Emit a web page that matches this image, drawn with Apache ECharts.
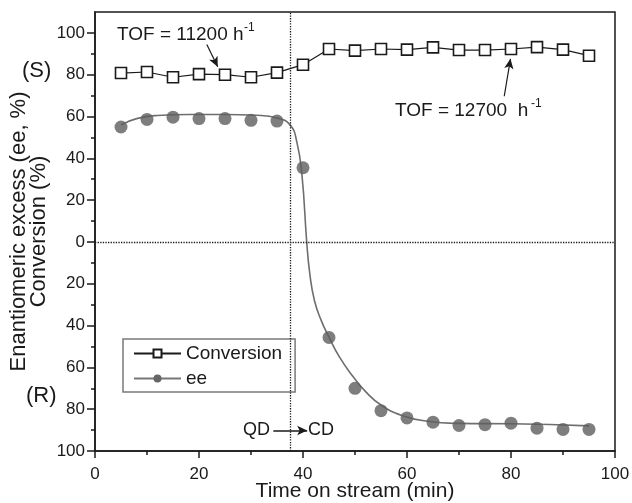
<!DOCTYPE html>
<html>
<head>
<meta charset="utf-8">
<script src="https://cdn.jsdelivr.net/npm/echarts@6/dist/echarts.min.js"></script>
<style>html,body{margin:0;padding:0;background:#fff}#c{width:632px;height:503px}</style>
</head>
<body>
<div id="c"></div>
<script>
// ---- data ----
var time = [5,10,15,20,25,30,35,40,45,50,55,60,65,70,75,80,85,90,95];
var conversion = [80.8,81.3,78.8,80.3,80.0,78.8,81.0,84.8,92.3,91.5,92.3,92.0,93.1,91.8,91.8,92.3,93.2,92.0,89.1];
// ee: positive = (S), negative = (R)
var ee = [55.0,58.6,59.7,59.0,59.0,58.2,57.8,35.5,-45.7,-70.0,-80.7,-84.2,-86.2,-87.8,-87.4,-86.7,-89.1,-89.7,-89.7];
// fitted curve, points
var fitTime = [5,8,12,18,25,31,35,37.5,38.8,39.8,40.7,41.3,42.2,43.5,45,47,49.5,52,55,59,64,70,80,95];
var fitEe   = [56,59,60.5,61,61,60.6,59.3,56,48,32,0.5,-15,-28,-37.5,-45.5,-55,-64,-71.5,-78,-83,-85.8,-86.8,-87,-88];
var yMajorTicks = [-100,-80,-60,-40,-20,0,20,40,60,80,100];
var yMinorTicks = [-90,-70,-50,-30,-10,10,30,50,70,90];
var switchTime = 37.5;

var FONT = 'Liberation Sans';
var INK = '#1a1a1a';

function pairs(xs, ys){ return xs.map(function(x,i){ return [x, ys[i]]; }); }

var chart = echarts.init(document.getElementById('c'), null, {renderer:'canvas'});
var option = {
  animation: false,
  backgroundColor: '#fff',
  textStyle: {fontFamily: FONT, color: INK},
  grid: {left: 95, right: 17, top: 12, bottom: 52, show: true, borderColor: INK, borderWidth: 1.5,
         backgroundColor: 'transparent', containLabel: false, outerBoundsMode: 'none'},
  legend: {
    data: ['Conversion', 'ee'],
    left: 123, top: 339, orient: 'vertical',
    padding: [5, 13, 4, 10],
    itemWidth: 47, itemHeight: 10, itemGap: 6,
    borderColor: '#7a7a7a', borderWidth: 1.5, backgroundColor: '#fff',
    textStyle: {fontFamily: FONT, fontSize: 19, color: INK}
  },
  xAxis: {
    type: 'value', min: 0, max: 100, interval: 20,
    name: 'Time on stream (min)', nameLocation: 'middle', nameGap: 30, nameMoveOverlap: false,
    nameTextStyle: {fontFamily: FONT, fontSize: 21, color: INK},
    axisLine: {show: true, onZero: false, lineStyle: {color: INK, width: 1.5}},
    axisTick: {show: true, length: 7, lineStyle: {color: INK, width: 1.5}},
    minorTick: {show: true, splitNumber: 2, length: 4, lineStyle: {color: INK, width: 1.5}},
    axisLabel: {fontFamily: FONT, fontSize: 17, color: INK, margin: 15},
    splitLine: {show: false}
  },
  yAxis: [{
    type: 'value', min: -100, max: 110, position: 'left',
    name: 'Enantiomeric excess (ee, %)\nConversion (%)', nameLocation: 'middle', nameGap: 46, nameMoveOverlap: false,
    nameTextStyle: {fontFamily: FONT, fontSize: 22, color: INK, lineHeight: 20},
    axisLine: {show: true, onZero: false, lineStyle: {color: INK, width: 1.5}},
    axisTick: {show: true, length: 8, customValues: yMajorTicks, lineStyle: {color: INK, width: 1.5}},
    axisLabel: {fontFamily: FONT, fontSize: 17, color: INK, margin: 10, customValues: yMajorTicks,
      formatter: function(v){ return String(Math.abs(v)); }},
    splitLine: {show: false}
  }, {
    type: 'value', min: -100, max: 110, position: 'left',
    axisLine: {show: false, onZero: false},
    axisTick: {show: true, length: 4, customValues: yMinorTicks, lineStyle: {color: INK, width: 1.5}},
    axisLabel: {show: false},
    splitLine: {show: false}
  }],
  graphic: [
    {type:'text', left: 117, top: 25, style:{text:'TOF = 11200 h', font:'19px "Liberation Sans"', fill: INK}},
    {type:'text', left: 244, top: 22, style:{text:'-1', font:'12px "Liberation Sans"', fill: INK}},
    {type:'text', left: 395, top: 101, style:{text:'TOF = 12700  h', font:'19px "Liberation Sans"', fill: INK}},
    {type:'text', left: 531, top: 98, style:{text:'-1', font:'12px "Liberation Sans"', fill: INK}},
    {type:'text', left: 22, top: 60, style:{text:'(S)', font:'22px "Liberation Sans"', fill: INK}},
    {type:'text', left: 26, top: 385, style:{text:'(R)', font:'22px "Liberation Sans"', fill: INK}},
    {type:'text', left: 243, top: 421, style:{text:'QD', font:'18px "Liberation Sans"', fill: INK}},
    {type:'text', left: 308, top: 421, style:{text:'CD', font:'18px "Liberation Sans"', fill: INK}}
  ],
  series: [
    {
      name: 'ee-fit', type: 'line', data: pairs(fitTime, fitEe), smooth: 0.5,
      showSymbol: false, symbol: 'none', lineStyle: {color: '#6e6e6e', width: 1.6}, z: 2, silent: true
    },
    {
      name: 'ee-points', type: 'scatter', data: pairs(time, ee), symbol: 'circle', symbolSize: 13,
      itemStyle: {color: '#5e5e5e'}, z: 3
    },
    {
      name: 'ee', type: 'line', data: [], symbol: 'circle', symbolSize: 11,
      itemStyle: {color: '#666'}, lineStyle: {color: '#777', width: 1.5}
    },
    {
      name: 'Conversion', type: 'line', data: pairs(time, conversion),
      symbol: 'rect', symbolSize: 11, showAllSymbol: true,
      itemStyle: {color: '#fff', borderColor: INK, borderWidth: 1.6},
      lineStyle: {color: INK, width: 1.2}, z: 4,
      markLine: {
        silent: true, animation: false, label: {show: false},
        symbol: ['none', 'none'],
        data: [
          {xAxis: switchTime, lineStyle: {type: 'dotted', color: INK, width: 1.3}},
          {yAxis: 0, lineStyle: {type: 'dotted', color: INK, width: 1.3}},
          [{coord: [21.5, 94.5], symbol: 'none', lineStyle: {type: 'solid', color: INK, width: 1.2}},
           {coord: [23.6, 83.8], symbol: 'arrow', symbolSize: [7, 10]}],
          [{coord: [78.7, 69.7], symbol: 'none', lineStyle: {type: 'solid', color: INK, width: 1.2}},
           {coord: [79.9, 87.6], symbol: 'arrow', symbolSize: [7, 10]}],
          [{coord: [34.3, -90.2], symbol: 'none', lineStyle: {type: 'solid', color: INK, width: 1.6}},
           {coord: [40.8, -90.2], symbol: 'arrow', symbolSize: [7, 10]}]
        ]
      }
    }
  ]
};
chart.setOption(option);
</script>
</body>
</html>
